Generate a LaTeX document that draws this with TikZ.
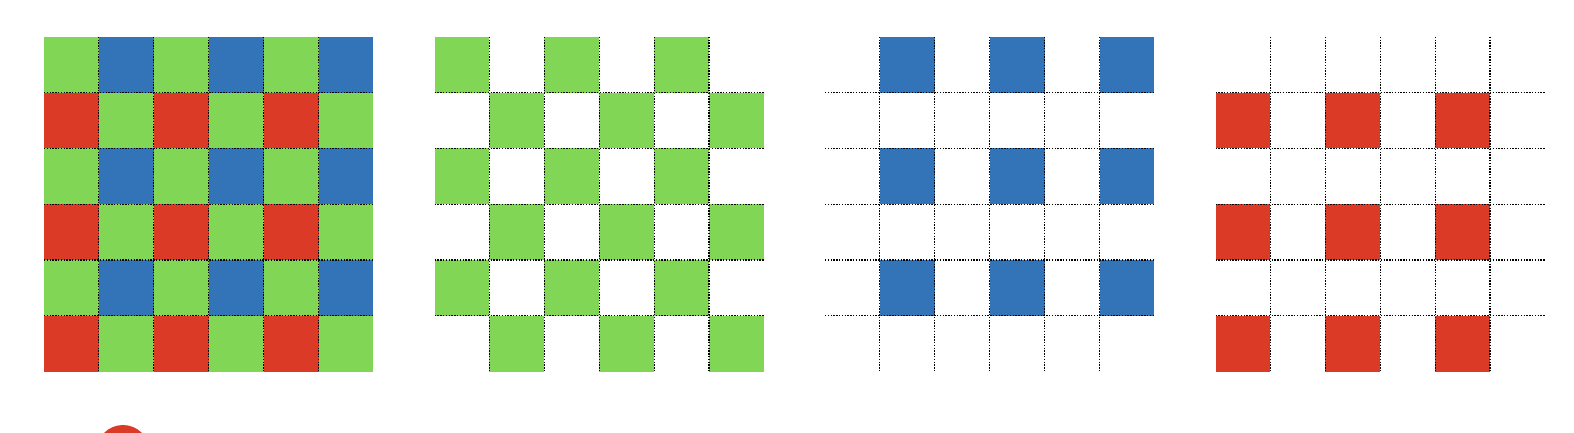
\documentclass[tikz,border=0pt]{standalone}
\definecolor{bgreen}{RGB}{130,214,85}
\definecolor{bblue}{RGB}{50,116,183}
\definecolor{bred}{RGB}{218,58,38}
\begin{document}
\begin{tikzpicture}[x=1pt,y=-1pt,
  gridline/.style={black,line width=1.1pt,dash pattern=on 1.4pt off 1.4pt},
  gcell/.style={fill=bgreen},
  bcell/.style={fill=bblue},
  rcell/.style={fill=bred}]
\useasboundingbox (0,0) rectangle (1574,432);
\def\cw{54.9}
\def\ch{55.83}
\def\ty{36.7}
% grid 1: full Bayer mosaic
\def\gx{44}
\fill[gcell] (\gx,\ty) rectangle ++({6*\cw},{6*\ch});
\foreach \r in {0,2,4} \foreach \c in {1,3,5}
  \fill[bcell] ({\gx+\c*\cw},{\ty+\r*\ch}) rectangle ++(\cw,\ch);
\foreach \r in {1,3,5} \foreach \c in {0,2,4}
  \fill[rcell] ({\gx+\c*\cw},{\ty+\r*\ch}) rectangle ++(\cw,\ch);
% grid 2: green only
\def\gx{434.5}
\foreach \r in {0,2,4} \foreach \c in {0,2,4} {
  \fill[gcell] ({\gx+\c*\cw},{\ty+\r*\ch}) rectangle ++(\cw,\ch);
  \fill[gcell] ({\gx+(\c+1)*\cw},{\ty+(\r+1)*\ch}) rectangle ++(\cw,\ch);
}
% grid 3: blue only
\def\gx{825}
\foreach \r in {0,2,4} \foreach \c in {1,3,5}
  \fill[bcell] ({\gx+\c*\cw},{\ty+\r*\ch}) rectangle ++(\cw,\ch);
% grid 4: red only
\def\gx{1215.5}
\foreach \r in {1,3,5} \foreach \c in {0,2,4}
  \fill[rcell] ({\gx+\c*\cw},{\ty+\r*\ch}) rectangle ++(\cw,\ch);
% dotted interior grid lines
\foreach \gx in {44,434.5,825,1215.5} \foreach \i in {1,...,5} {
  \draw[gridline] ({\gx+\i*\cw},\ty) -- ++(0,{6*\ch});
  \draw[gridline] (\gx,{\ty+\i*\ch}) -- ++({6*\cw},0);
}
% partial red disc at the bottom edge
\begin{scope}
\clip (0,0) rectangle (1574,432);
\fill[bred] (123,451.6) circle[radius=26.6pt];
\end{scope}
\end{tikzpicture}
\end{document}
